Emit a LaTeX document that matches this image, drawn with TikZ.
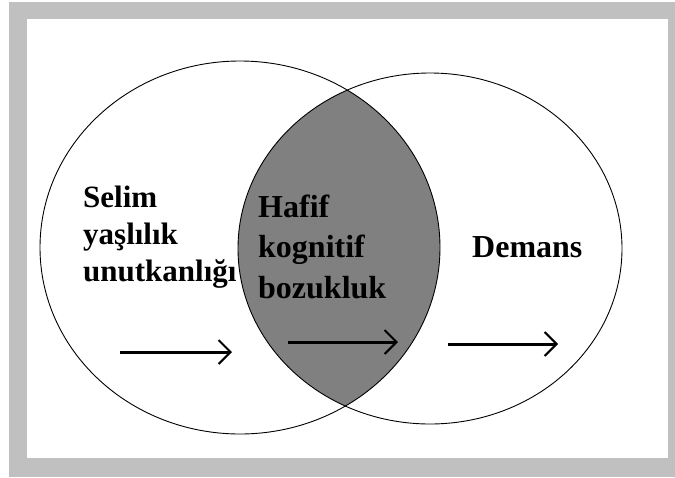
\documentclass[tikz,border=0pt]{standalone}
\usepackage{fontspec}
\setmainfont{Liberation Serif}
\usetikzlibrary{arrows.meta}
\definecolor{framegray}{RGB}{192,192,192}
\definecolor{lensgray}{RGB}{128,128,128}

\begin{document}
\begin{tikzpicture}[x=1pt,y=-1pt,
  lbl/.style={inner sep=0pt,align=left,font=\bfseries\fontsize{31}{37}\selectfont},
  flow/.style={line width=3pt,-{Straight Barb[length=12pt,width=24pt,line width=2pt]}}]
\useasboundingbox (0,0) rectangle (675,477);
\fill[white] (0,0) rectangle (675,477);
\fill[framegray] (9,2) rectangle (675,477);
\fill[white] (27,19) rectangle (668,458);
\begin{scope}
  \clip (240,247.5) ellipse [x radius=200pt,y radius=186.5pt];
  \fill[lensgray] (430,248.5) ellipse [x radius=192pt,y radius=175.5pt];
\end{scope}
\draw[line width=0.9pt] (240,247.5) ellipse [x radius=200pt,y radius=186.5pt];
\draw[line width=0.9pt] (430,248.5) ellipse [x radius=192pt,y radius=175.5pt];
\node[lbl,anchor=base west] (selim) at (83,281) {Selim\\yaşlılık\\unutkanlığı};
\node[lbl,anchor=base west,font=\bfseries\fontsize{32}{40.5}\selectfont] (hafif) at (258,298) {Hafif\\kognitif\\bozukluk};
\node[lbl,anchor=base west,font=\bfseries\fontsize{32}{37}\selectfont] (demans) at (472,257) {Demans};
\coordinate (s1) at (120,352);
\coordinate (e1) at (232,352);
\coordinate (s2) at (288,342);
\coordinate (e2) at (398,342);
\coordinate (s3) at (448,344);
\coordinate (e3) at (558,344);
\draw[flow] (s1) -- (e1);
\draw[flow] (s2) -- (e2);
\draw[flow] (s3) -- (e3);
\end{tikzpicture}
\end{document}
